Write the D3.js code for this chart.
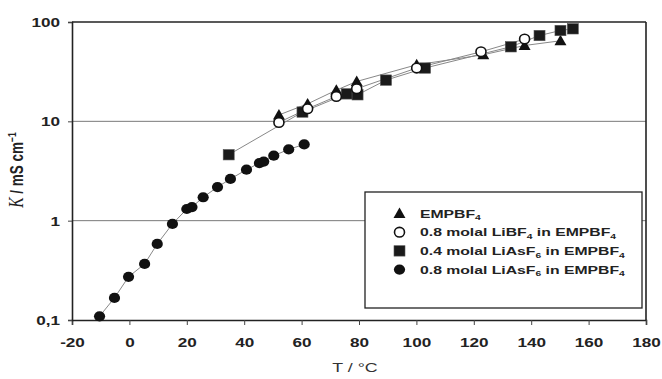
<!DOCTYPE html>
<html>
<head>
<meta charset="utf-8">
<script src="https://cdn.jsdelivr.net/npm/d3@7"></script>
<style>
  html, body { margin: 0; padding: 0; background: #fff; }
  svg { display: block; }
</style>
</head>
<body>
<svg id="chart" width="662" height="379"></svg>
<script>
// Conductivity of EMPBF4-based electrolytes vs temperature
const tEMP = [52.1, 62.1, 72.1, 79.2, 100.1, 123.3, 137.7, 150.2];
const kEMP = [11.6, 15.0, 20.6, 25.2, 37.1, 46.8, 58.0, 64.7];

const tLiBF4 = [52.1, 62.1, 72.1, 79.2, 100.1, 122.5, 137.7];
const kLiBF4 = [9.75, 13.4, 17.8, 21.3, 34.4, 50.1, 67.3];

const tLiAsF6a = [34.6, 60.3, 75.7, 79.5, 89.4, 103.0, 132.9, 142.9, 150.2, 154.5];
const kLiAsF6a = [4.61, 12.4, 18.9, 18.5, 26.0, 34.4, 56.3, 73.1, 82.1, 85.4];

const tLiAsF6b = [-10.4, -5.2, -0.3, 5.3, 9.7, 15.0, 20.0, 21.8, 25.7, 30.7, 35.2, 40.8, 45.3, 46.8, 50.3, 55.5, 60.9];
const kLiAsF6b = [0.109, 0.167, 0.272, 0.367, 0.583, 0.927, 1.31, 1.37, 1.72, 2.18, 2.63, 3.26, 3.80, 3.93, 4.51, 5.22, 5.86];

const xTicks = [-20, 0, 20, 40, 60, 80, 100, 120, 140, 160, 180];
const xTickLabels = ["-20", "0", "20", "40", "60", "80", "100", "120", "140", "160", "180"];
const yTicks = [0.1, 1, 10, 100];
const yTickLabels = ["0,1", "1", "10", "100"];

const svg = d3.select("#chart");
const plot = { left: 72, right: 646, top: 22, bottom: 320 };
const stretch = 1.37; // text is drawn horizontally widened

const x = d3.scaleLinear().domain([-20, 180]).range([plot.left, plot.right]);
const y = d3.scaleLog().domain([0.1, 100]).range([plot.bottom, plot.top]);

const sansBold = "'Liberation Sans', Arial, sans-serif";

// horizontal grid at 1 and 10
svg.append("g").selectAll("line").data([1, 10]).join("line")
  .attr("x1", plot.left).attr("x2", plot.right)
  .attr("y1", d => y(d)).attr("y2", d => y(d))
  .attr("stroke", "#7a7a7a").attr("stroke-width", 1);

// frame (top and right)
svg.append("line").attr("x1", plot.left).attr("x2", plot.right)
  .attr("y1", plot.top).attr("y2", plot.top)
  .attr("stroke", "#222").attr("stroke-width", 1.6);
svg.append("line").attr("x1", plot.right).attr("x2", plot.right)
  .attr("y1", plot.top).attr("y2", plot.bottom)
  .attr("stroke", "#222").attr("stroke-width", 1.6);

// axes
const xAxis = svg.append("g")
  .attr("transform", `translate(0,${plot.bottom})`)
  .call(d3.axisBottom(x).tickValues(xTicks).tickSize(5)
    .tickFormat((d, i) => xTickLabels[i]));
const yAxis = svg.append("g")
  .attr("transform", `translate(${plot.left},0)`)
  .call(d3.axisLeft(y).tickValues(yTicks).tickSize(4)
    .tickFormat((d, i) => yTickLabels[i]));

[xAxis, yAxis].forEach(g => {
  g.select(".domain").attr("stroke", "#222").attr("stroke-width", 1.6);
  g.selectAll(".tick line").attr("stroke", "#444");
  g.selectAll(".tick text")
    .attr("fill", "#222")
    .style("font-family", sansBold)
    .style("font-weight", "bold")
    .style("font-size", "12.5px");
});
xAxis.selectAll(".tick text")
  .attr("y", 0).attr("dy", null)
  .attr("transform", `translate(0,27) scale(${stretch},1)`);
yAxis.selectAll(".tick text")
  .attr("x", 0).attr("dy", "0.36em")
  .attr("transform", `translate(-12,0) scale(${stretch},1)`);

// axis titles
svg.append("text")
  .attr("transform", `translate(355,372) scale(${stretch},1)`)
  .attr("text-anchor", "middle")
  .style("font-family", sansBold).style("font-size", "13px").attr("fill", "#333")
  .text("T / °C");

const yTitle = svg.append("text")
  .attr("transform", `translate(23,170) scale(${stretch},1) rotate(-90)`)
  .attr("text-anchor", "middle")
  .attr("fill", "#222")
  .style("font-family", sansBold).style("font-size", "13.5px").style("font-weight", "bold");
yTitle.append("tspan").style("font-family", "'Liberation Serif', 'Times New Roman', serif")
  .style("font-style", "italic").style("font-weight", "normal").style("font-size", "15.5px").text("K");
yTitle.append("tspan").text(" / mS cm");
yTitle.append("tspan").attr("dy", -5).style("font-size", "8.5px").text("−1");

// series
const series = [
  { key: "emp", t: tEMP, k: kEMP, shape: "triangle" },
  { key: "libf4", t: tLiBF4, k: kLiBF4, shape: "open" },
  { key: "liasf6a", t: tLiAsF6a, k: kLiAsF6a, shape: "square" },
  { key: "liasf6b", t: tLiAsF6b, k: kLiAsF6b, shape: "circle" }
];

const line = d3.line().x(d => x(d[0])).y(d => y(d[1]));
const lineLayer = svg.append("g");
series.forEach(s => {
  lineLayer.append("path")
    .datum(d3.zip(s.t, s.k))
    .attr("d", line)
    .attr("fill", "none")
    .attr("stroke", "#888")
    .attr("stroke-width", 1);
});

function drawMarker(g, shape, cx, cy) {
  if (shape === "triangle") {
    g.append("path")
      .attr("d", d3.symbol(d3.symbolTriangle, 62)())
      .attr("transform", `translate(${cx},${cy + 1})`)
      .attr("fill", "#111");
  } else if (shape === "square") {
    g.append("rect")
      .attr("x", cx - 5.5).attr("y", cy - 5.2).attr("width", 11).attr("height", 10.4)
      .attr("fill", "#1a1a1a").attr("stroke", "#555").attr("stroke-width", 0.6);
  } else if (shape === "open") {
    g.append("ellipse").attr("cx", cx).attr("cy", cy).attr("rx", 5).attr("ry", 4.8)
      .attr("fill", "#fff").attr("stroke", "#111").attr("stroke-width", 1.6);
  } else {
    g.append("ellipse").attr("cx", cx).attr("cy", cy).attr("rx", 5.6).attr("ry", 5.1)
      .attr("fill", "#111");
  }
}

const markerLayer = svg.append("g");
["triangle", "square", "open", "circle"].forEach(shape => {
  const s = series.find(d => d.shape === shape);
  s.t.forEach((t, i) => drawMarker(markerLayer, shape, x(t), y(s.k[i])));
});

// legend
const legend = svg.append("g");
legend.append("rect")
  .attr("x", 365).attr("y", 192).attr("width", 277).attr("height", 116)
  .attr("fill", "#fff").attr("stroke", "#222").attr("stroke-width", 1.3);

const legendItems = [
  { shape: "triangle", parts: [["EMPBF", ""], ["4", "sub"]] },
  { shape: "open", parts: [["0.8 molal LiBF", ""], ["4", "sub"], [" in EMPBF", ""], ["4", "sub"]] },
  { shape: "square", parts: [["0.4 molal LiAsF", ""], ["6", "sub"], [" in EMPBF", ""], ["4", "sub"]] },
  { shape: "circle", parts: [["0.8 molal LiAsF", ""], ["6", "sub"], [" in EMPBF", ""], ["4", "sub"]] }
];
legendItems.forEach((it, i) => {
  const cy = 213.5 + i * 18.7;
  drawMarker(legend, it.shape, 399.5, cy);
  const txt = legend.append("text")
    .attr("transform", `translate(420,${cy + 4.2}) scale(${stretch},1)`)
    .attr("fill", "#222")
    .style("font-family", sansBold).style("font-weight", "bold").style("font-size", "11.5px");
  it.parts.forEach(([str, kind], j) => {
    if (kind === "sub") {
      txt.append("tspan").attr("dy", 2.5).style("font-size", "7.5px").text(str);
    } else {
      const ts = txt.append("tspan").text(str);
      if (j > 0) ts.attr("dy", -2.5);
    }
  });
});
</script>
</body>
</html>
